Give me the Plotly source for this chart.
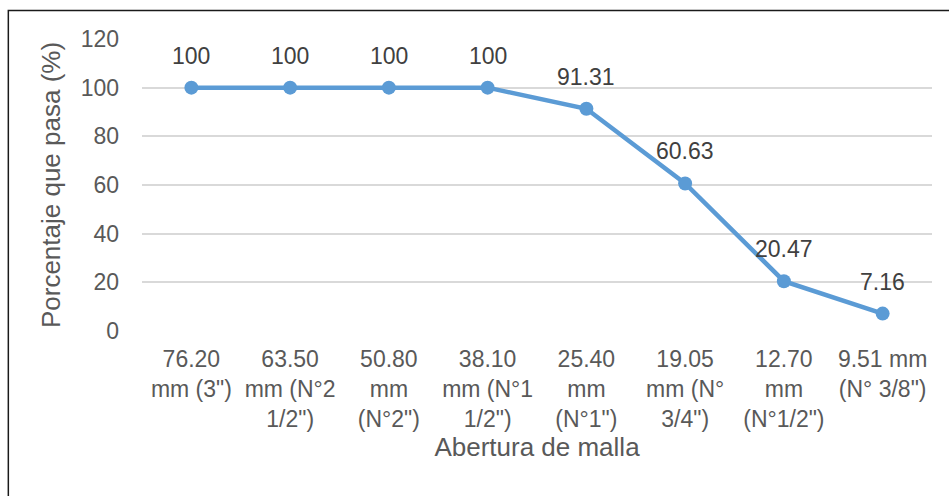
import plotly.graph_objects as go

categories = ["76.20 mm (3\")", "63.50 mm (N°2 1/2\")", "50.80 mm (N°2\")", "38.10 mm (N°1 1/2\")",
              "25.40 mm (N°1\")", "19.05 mm (N° 3/4\")", "12.70 mm (N°1/2\")", "9.51 mm (N° 3/8\")"]
tick_labels = ["76.20<br>mm (3\")", "63.50<br>mm (N°2<br>1/2\")", "50.80<br>mm<br>(N°2\")",
               "38.10<br>mm (N°1<br>1/2\")", "25.40<br>mm<br>(N°1\")", "19.05<br>mm (N°<br>3/4\")",
               "12.70<br>mm<br>(N°1/2\")", "9.51 mm<br>(N° 3/8\")"]
percent_passing = [100, 100, 100, 100, 91.31, 60.63, 20.47, 7.16]
label_texts = ["100", "100", "100", "100", "91.31", "60.63", "20.47", "7.16"]
y_ticks = [0, 20, 40, 60, 80, 100, 120]

FONT = "Liberation Sans, Arial, sans-serif"
BLUE = "#5B9BD5"

fig = go.Figure()
fig.add_trace(go.Scatter(
    x=categories, y=percent_passing, mode="lines+markers",
    line=dict(color=BLUE, width=4.5),
    marker=dict(color=BLUE, size=14),
    hoverinfo="skip", showlegend=False,
))

annotations = []
for c, v, t in zip(categories, percent_passing, label_texts):
    annotations.append(dict(x=c, y=v, xref="x", yref="y", text=t, showarrow=False,
                            yanchor="bottom", xanchor="center", yshift=17,
                            font=dict(family=FONT, size=23, color="#404040")))

fig.update_layout(
    width=949, height=496,
    margin=dict(l=142, r=17, t=39, b=165),
    paper_bgcolor="white", plot_bgcolor="white",
    font=dict(family=FONT, size=23, color="#595959"),
    annotations=annotations,
    shapes=[dict(type="rect", xref="paper", yref="paper",
                 x0=-0.1692, x1=1.05, y0=-0.7, y1=1.0976,
                 line=dict(color="#1a1a1a", width=1.5), fillcolor="rgba(0,0,0,0)", layer="below")],
    xaxis=dict(
        type="category", categoryorder="array", categoryarray=categories,
        tickmode="array", tickvals=categories, ticktext=tick_labels,
        range=[-0.5, 7.5], showgrid=False, zeroline=False, showline=False,
        ticks="", ticklabelstandoff=12, tickangle=0,
        tickfont=dict(family=FONT, size=23, color="#595959"),
        title=dict(text="Abertura de malla", font=dict(family=FONT, size=26, color="#595959"), standoff=6),
    ),
    yaxis=dict(
        range=[0, 120], tickmode="array", tickvals=y_ticks,
        showgrid=True, gridcolor="#D9D9D9", gridwidth=1.5, zeroline=False, showline=False,
        ticks="", ticklabelstandoff=22,
        tickfont=dict(family=FONT, size=23, color="#595959"),
        title=dict(text="Porcentaje que pasa (%)", font=dict(family=FONT, size=26, color="#595959"), standoff=12),
    ),
)

fig.write_html("out.html")
